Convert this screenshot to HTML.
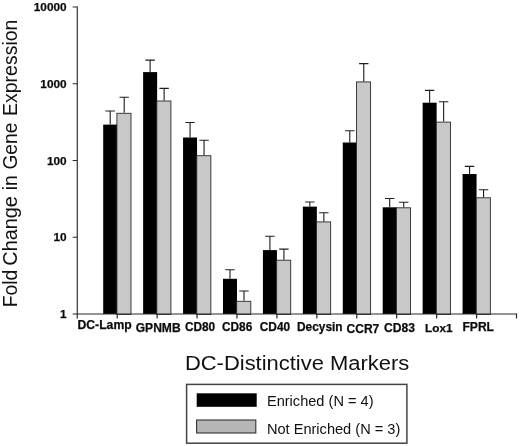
<!DOCTYPE html>
<html><head><meta charset="utf-8"><title>Fold Change in Gene Expression</title>
<style>
html,body{margin:0;padding:0;background:#fff;}
body{width:520px;height:446px;overflow:hidden;}
svg{display:block;font-family:"Liberation Sans",Arial,sans-serif;}
.b{font-weight:bold;font-size:12.2px;fill:#0c0c0c;stroke:#0c0c0c;stroke-width:0.25px;}
.y{font-size:11.8px;}
</style></head><body>
<svg width="520" height="446" viewBox="0 0 520 446">
<rect width="520" height="446" fill="#fff"/>

<rect x="103.20" y="124.60" width="14" height="189.40" fill="#000"/>
<rect x="116.90" y="113.30" width="14.1" height="201.20" fill="#c8c8c8" stroke="#2a2a2a" stroke-width="0.9"/>
<path d="M110.20 124.60V111.00M105.50 111.00H114.90" stroke="#1e1e1e" stroke-width="1.12" fill="none"/>
<path d="M124.20 112.80V97.20M119.50 97.20H128.90" stroke="#1e1e1e" stroke-width="1.12" fill="none"/>
<rect x="143.13" y="72.10" width="14" height="241.90" fill="#000"/>
<rect x="156.83" y="101.00" width="14.1" height="213.50" fill="#c8c8c8" stroke="#2a2a2a" stroke-width="0.9"/>
<path d="M150.13 72.10V60.10M145.43 60.10H154.83" stroke="#1e1e1e" stroke-width="1.12" fill="none"/>
<path d="M164.13 100.50V88.40M159.43 88.40H168.83" stroke="#1e1e1e" stroke-width="1.12" fill="none"/>
<rect x="183.06" y="137.50" width="14" height="176.50" fill="#000"/>
<rect x="196.76" y="155.70" width="14.1" height="158.80" fill="#c8c8c8" stroke="#2a2a2a" stroke-width="0.9"/>
<path d="M190.06 137.50V122.50M185.36 122.50H194.76" stroke="#1e1e1e" stroke-width="1.12" fill="none"/>
<path d="M204.06 155.20V140.20M199.36 140.20H208.76" stroke="#1e1e1e" stroke-width="1.12" fill="none"/>
<rect x="222.99" y="278.80" width="14" height="35.20" fill="#000"/>
<rect x="236.69" y="301.30" width="14.1" height="13.20" fill="#c8c8c8" stroke="#2a2a2a" stroke-width="0.9"/>
<path d="M229.99 278.80V269.70M225.29 269.70H234.69" stroke="#1e1e1e" stroke-width="1.12" fill="none"/>
<path d="M243.99 300.80V291.00M239.29 291.00H248.69" stroke="#1e1e1e" stroke-width="1.12" fill="none"/>
<rect x="262.92" y="250.10" width="14" height="63.90" fill="#000"/>
<rect x="276.62" y="260.20" width="14.1" height="54.30" fill="#c8c8c8" stroke="#2a2a2a" stroke-width="0.9"/>
<path d="M269.92 250.10V236.30M265.22 236.30H274.62" stroke="#1e1e1e" stroke-width="1.12" fill="none"/>
<path d="M283.92 259.70V249.10M279.22 249.10H288.62" stroke="#1e1e1e" stroke-width="1.12" fill="none"/>
<rect x="302.85" y="206.60" width="14" height="107.40" fill="#000"/>
<rect x="316.55" y="221.90" width="14.1" height="92.60" fill="#c8c8c8" stroke="#2a2a2a" stroke-width="0.9"/>
<path d="M309.85 206.60V202.00M305.15 202.00H314.55" stroke="#1e1e1e" stroke-width="1.12" fill="none"/>
<path d="M323.85 221.40V212.70M319.15 212.70H328.55" stroke="#1e1e1e" stroke-width="1.12" fill="none"/>
<rect x="342.78" y="142.50" width="14" height="171.50" fill="#000"/>
<rect x="356.48" y="81.90" width="14.1" height="232.60" fill="#c8c8c8" stroke="#2a2a2a" stroke-width="0.9"/>
<path d="M349.78 142.50V130.70M345.08 130.70H354.48" stroke="#1e1e1e" stroke-width="1.12" fill="none"/>
<path d="M363.78 81.40V63.60M359.08 63.60H368.48" stroke="#1e1e1e" stroke-width="1.12" fill="none"/>
<rect x="382.71" y="207.30" width="14" height="106.70" fill="#000"/>
<rect x="396.41" y="207.80" width="14.1" height="106.70" fill="#c8c8c8" stroke="#2a2a2a" stroke-width="0.9"/>
<path d="M389.71 207.30V198.50M385.01 198.50H394.41" stroke="#1e1e1e" stroke-width="1.12" fill="none"/>
<path d="M403.71 207.30V202.30M399.01 202.30H408.41" stroke="#1e1e1e" stroke-width="1.12" fill="none"/>
<rect x="422.64" y="102.70" width="14" height="211.30" fill="#000"/>
<rect x="436.34" y="122.10" width="14.1" height="192.40" fill="#c8c8c8" stroke="#2a2a2a" stroke-width="0.9"/>
<path d="M429.64 102.70V90.40M424.94 90.40H434.34" stroke="#1e1e1e" stroke-width="1.12" fill="none"/>
<path d="M443.64 121.60V101.70M438.94 101.70H448.34" stroke="#1e1e1e" stroke-width="1.12" fill="none"/>
<rect x="462.57" y="174.00" width="14" height="140.00" fill="#000"/>
<rect x="476.27" y="197.80" width="14.1" height="116.70" fill="#c8c8c8" stroke="#2a2a2a" stroke-width="0.9"/>
<path d="M469.57 174.00V166.40M464.87 166.40H474.27" stroke="#1e1e1e" stroke-width="1.12" fill="none"/>
<path d="M483.57 197.30V189.80M478.87 189.80H488.27" stroke="#1e1e1e" stroke-width="1.12" fill="none"/>
<path d="M77.27 6.5V314.60M76.67 314.00H517.10" stroke="#2a2a2a" stroke-width="1.15" fill="none"/>
<path d="M72.67 7.00H77.27M72.67 83.75H77.27M72.67 160.50H77.27M72.67 237.25H77.27M72.67 314.00H77.27M77.27 314.00V318.50M117.20 314.00V318.50M157.13 314.00V318.50M197.06 314.00V318.50M236.99 314.00V318.50M276.92 314.00V318.50M316.85 314.00V318.50M356.78 314.00V318.50M396.71 314.00V318.50M436.64 314.00V318.50M476.57 314.00V318.50M516.50 314.00V318.50" stroke="#2a2a2a" stroke-width="1.2" fill="none"/>
<text class="b y" x="66.6" y="11.10" text-anchor="end">10000</text>
<text class="b y" x="66.6" y="87.85" text-anchor="end">1000</text>
<text class="b y" x="66.6" y="164.60" text-anchor="end">100</text>
<text class="b y" x="66.6" y="241.35" text-anchor="end">10</text>
<text class="b y" x="66.6" y="318.10" text-anchor="end">1</text>
<text class="b" x="77.50" y="329.00" style="font-size:12.2px">DC-Lamp</text>
<text class="b" x="135.75" y="331.50" style="font-size:12.05px">GPNMB</text>
<text class="b" x="184.90" y="331.10" style="font-size:11.85px">CD80</text>
<text class="b" x="222.00" y="331.20" style="font-size:11.85px">CD86</text>
<text class="b" x="259.80" y="330.80" style="font-size:11.85px">CD40</text>
<text class="b" x="297.00" y="331.30" style="font-size:11.9px">Decysin</text>
<text class="b" x="346.50" y="333.00" style="font-size:12.05px">CCR7</text>
<text class="b" x="384.00" y="332.00" style="font-size:12.1px">CD83</text>
<text class="b" x="425.10" y="331.60" style="font-size:11.75px">Lox1</text>
<text class="b" x="462.50" y="330.80" style="font-size:12.05px">FPRL</text>
<text transform="translate(17.3 307.29) rotate(-90) scale(0.99 1)" font-size="19.5" fill="#111">Fold</text>
<text transform="translate(17.3 265.72) rotate(-90) scale(1.02 1)" font-size="19.5" fill="#111">Change</text>
<text transform="translate(17.3 190.29) rotate(-90) scale(0.99 1)" font-size="19.5" fill="#111">in</text>
<text transform="translate(17.3 169.59) rotate(-90) scale(0.985 1)" font-size="19.5" fill="#111">Gene</text>
<text transform="translate(17.3 116.00) rotate(-90) scale(1.0 1)" font-size="19.5" fill="#111">Expression</text>
<text id="xt" transform="translate(184.9 370.1) scale(1.046 1)" font-size="21.0" fill="#111">DC-Distinctive Markers</text>
<rect x="186.6" y="384.4" width="220.3" height="58.8" fill="#fff" stroke="#444" stroke-width="1.5"/>
<rect x="196.7" y="393.3" width="60" height="13.5" fill="#000"/>
<rect x="196.6" y="420" width="59.2" height="13" fill="#b6b6b6" stroke="#333" stroke-width="1.1"/>
<text id="l1" transform="translate(266.9 405.7) scale(1.021 1)" font-size="14.3" fill="#111">Enriched (N = 4)</text>
<text id="l2" transform="translate(266.9 433.6) scale(1.021 1)" font-size="14.3" fill="#111">Not Enriched (N = 3)</text>
</svg></body></html>
